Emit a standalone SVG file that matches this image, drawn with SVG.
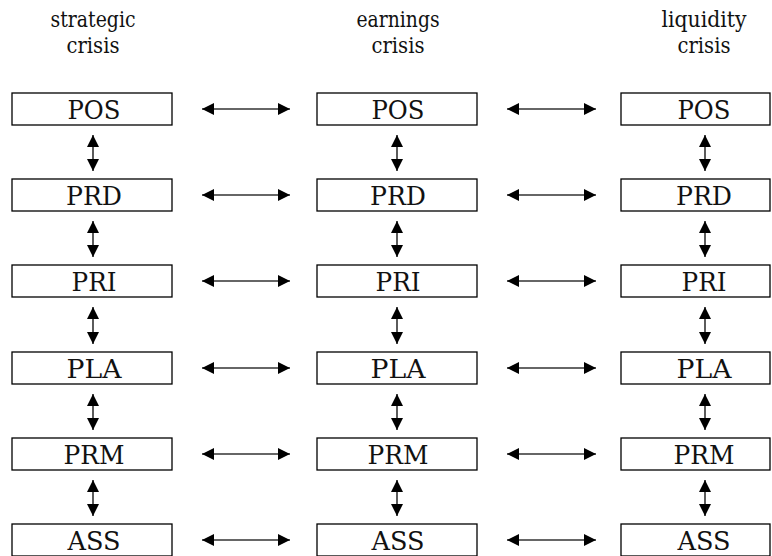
<svg xmlns="http://www.w3.org/2000/svg" width="772" height="556" viewBox="0 0 772 556">
<style>
.box{fill:#fff;stroke:#000;stroke-width:1.3}
.lbl{font-family:"DejaVu Serif","Liberation Serif",serif;font-size:26px;fill:#111;text-anchor:middle}
.ttl{font-family:"DejaVu Serif","Liberation Serif",serif;font-size:23px;fill:#111;text-anchor:middle}
.arr{stroke:#333;stroke-width:1.6;fill:none;marker-start:url(#ah);marker-end:url(#ah)}
</style>
<defs>
<marker id="ah" markerUnits="userSpaceOnUse" markerWidth="13" markerHeight="13" refX="12" refY="6.5" orient="auto-start-reverse">
<path d="M0,0.5 L12,6.5 L0,12.5 z" fill="#000"/>
</marker>
</defs>
<g id="titles">
<text class="ttl" x="93" y="27" textLength="85" lengthAdjust="spacingAndGlyphs">strategic</text><text class="ttl" x="93" y="53" textLength="53" lengthAdjust="spacingAndGlyphs">crisis</text>
<text class="ttl" x="398" y="27" textLength="83" lengthAdjust="spacingAndGlyphs">earnings</text><text class="ttl" x="398" y="53" textLength="53" lengthAdjust="spacingAndGlyphs">crisis</text>
<text class="ttl" x="704" y="27" textLength="85" lengthAdjust="spacingAndGlyphs">liquidity</text><text class="ttl" x="704" y="53" textLength="53" lengthAdjust="spacingAndGlyphs">crisis</text>
</g>
<g id="s-POS"><rect class="box" x="12" y="93" width="160" height="32"/><text class="lbl" x="94" y="119" textLength="53" lengthAdjust="spacingAndGlyphs">POS</text></g>
<g id="s-PRD"><rect class="box" x="12" y="179" width="160" height="32"/><text class="lbl" x="94" y="205" textLength="56" lengthAdjust="spacingAndGlyphs">PRD</text></g>
<g id="s-PRI"><rect class="box" x="12" y="265" width="160" height="32"/><text class="lbl" x="94" y="291" textLength="45" lengthAdjust="spacingAndGlyphs">PRI</text></g>
<g id="s-PLA"><rect class="box" x="12" y="352" width="160" height="32"/><text class="lbl" x="94" y="378" textLength="55" lengthAdjust="spacingAndGlyphs">PLA</text></g>
<g id="s-PRM"><rect class="box" x="12" y="438" width="160" height="32"/><text class="lbl" x="94" y="464" textLength="61" lengthAdjust="spacingAndGlyphs">PRM</text></g>
<g id="s-ASS"><rect class="box" x="12" y="524" width="160" height="32"/><text class="lbl" x="94" y="550" textLength="53" lengthAdjust="spacingAndGlyphs">ASS</text></g>
<g id="e-POS"><rect class="box" x="317" y="93" width="160" height="32"/><text class="lbl" x="398" y="119" textLength="53" lengthAdjust="spacingAndGlyphs">POS</text></g>
<g id="e-PRD"><rect class="box" x="317" y="179" width="160" height="32"/><text class="lbl" x="398" y="205" textLength="56" lengthAdjust="spacingAndGlyphs">PRD</text></g>
<g id="e-PRI"><rect class="box" x="317" y="265" width="160" height="32"/><text class="lbl" x="398" y="291" textLength="45" lengthAdjust="spacingAndGlyphs">PRI</text></g>
<g id="e-PLA"><rect class="box" x="317" y="352" width="160" height="32"/><text class="lbl" x="398" y="378" textLength="55" lengthAdjust="spacingAndGlyphs">PLA</text></g>
<g id="e-PRM"><rect class="box" x="317" y="438" width="160" height="32"/><text class="lbl" x="398" y="464" textLength="61" lengthAdjust="spacingAndGlyphs">PRM</text></g>
<g id="e-ASS"><rect class="box" x="317" y="524" width="160" height="32"/><text class="lbl" x="398" y="550" textLength="53" lengthAdjust="spacingAndGlyphs">ASS</text></g>
<g id="l-POS"><rect class="box" x="621" y="93" width="149" height="32"/><text class="lbl" x="704" y="119" textLength="53" lengthAdjust="spacingAndGlyphs">POS</text></g>
<g id="l-PRD"><rect class="box" x="621" y="179" width="149" height="32"/><text class="lbl" x="704" y="205" textLength="56" lengthAdjust="spacingAndGlyphs">PRD</text></g>
<g id="l-PRI"><rect class="box" x="621" y="265" width="149" height="32"/><text class="lbl" x="704" y="291" textLength="45" lengthAdjust="spacingAndGlyphs">PRI</text></g>
<g id="l-PLA"><rect class="box" x="621" y="352" width="149" height="32"/><text class="lbl" x="704" y="378" textLength="55" lengthAdjust="spacingAndGlyphs">PLA</text></g>
<g id="l-PRM"><rect class="box" x="621" y="438" width="149" height="32"/><text class="lbl" x="704" y="464" textLength="61" lengthAdjust="spacingAndGlyphs">PRM</text></g>
<g id="l-ASS"><rect class="box" x="621" y="524" width="149" height="32"/><text class="lbl" x="704" y="550" textLength="53" lengthAdjust="spacingAndGlyphs">ASS</text></g>
<g id="connectors">
<path class="arr" d="M202,109 H290"/><path class="arr" d="M507,109 H596"/>
<path class="arr" d="M202,195 H290"/><path class="arr" d="M507,195 H596"/>
<path class="arr" d="M202,281 H290"/><path class="arr" d="M507,281 H596"/>
<path class="arr" d="M202,368 H290"/><path class="arr" d="M507,368 H596"/>
<path class="arr" d="M202,454 H290"/><path class="arr" d="M507,454 H596"/>
<path class="arr" d="M202,540 H290"/><path class="arr" d="M507,540 H596"/>
<path class="arr" d="M93,135 V171"/><path class="arr" d="M397,135 V171"/><path class="arr" d="M705,135 V171"/>
<path class="arr" d="M93,221 V257"/><path class="arr" d="M397,221 V257"/><path class="arr" d="M705,221 V257"/>
<path class="arr" d="M93,307 V344"/><path class="arr" d="M397,307 V344"/><path class="arr" d="M705,307 V344"/>
<path class="arr" d="M93,394 V430"/><path class="arr" d="M397,394 V430"/><path class="arr" d="M705,394 V430"/>
<path class="arr" d="M93,480 V516"/><path class="arr" d="M397,480 V516"/><path class="arr" d="M705,480 V516"/>
</g>
</svg>
